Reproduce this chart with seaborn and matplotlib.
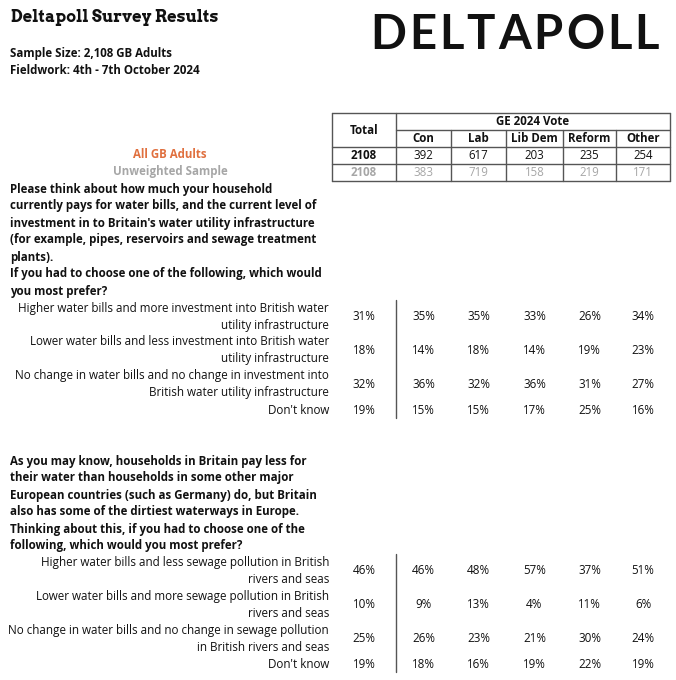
import numpy as np
import pandas as pd
import seaborn as sns
from matplotlib import pyplot as plt
from matplotlib import font_manager
from matplotlib.font_manager import FontProperties

# survey data

parties = ['Con', 'Lab', 'Lib Dem', 'Reform', 'Other']
weighted_n = [2108, 392, 617, 203, 235, 254]
unweighted_n = [2108, 383, 719, 158, 219, 171]

q1_text = ["Please think about how much your household",
           "currently pays for water bills, and the current level of",
           "investment in to Britain's water utility infrastructure",
           "(for example, pipes, reservoirs and sewage treatment",
           "plants).",
           "If you had to choose one of the following, which would",
           "you most prefer?"]
q1_options = [["Higher water bills and more investment into British water", "utility infrastructure"],
              ["Lower water bills and less investment into British water", "utility infrastructure"],
              ["No change in water bills and no change in investment into", "British water utility infrastructure"],
              ["Don't know"]]
q1_values = [[31, 35, 35, 33, 26, 34],
             [18, 14, 18, 14, 19, 23],
             [32, 36, 32, 36, 31, 27],
             [19, 15, 15, 17, 25, 16]]

q2_text = ["As you may know, households in Britain pay less for",
           "their water than households in some other major",
           "European countries (such as Germany) do, but Britain",
           "also has some of the dirtiest waterways in Europe.",
           "Thinking about this, if you had to choose one of the",
           "following, which would you most prefer?"]
q2_options = [["Higher water bills and less sewage pollution in British", "rivers and seas"],
              ["Lower water bills and more sewage pollution in British", "rivers and seas"],
              ["No change in water bills and no change in sewage pollution", "in British rivers and seas"],
              ["Don't know"]]
q2_values = [[46, 46, 48, 57, 37, 51],
             [10, 9, 13, 4, 11, 6],
             [25, 26, 23, 21, 30, 24],
             [19, 18, 16, 19, 22, 19]]

sns.set_theme(style='white')
plt.rcParams['font.family'] = ['Open Sans', 'DejaVu Sans']


def font_file(suffix, fallback_family, weight='normal'):
    for f in font_manager.fontManager.ttflist:
        if f.fname.endswith(suffix):
            return FontProperties(fname=f.fname)
    return FontProperties(family=fallback_family, weight=weight)


row_font = font_file('OpenSans-Regular.ttf', 'Open Sans')
title_font = font_file('Arvo-Bold.ttf', 'DejaVu Serif', 'bold')
logo_font = FontProperties(family=['Lato', 'DejaVu Sans'], weight='bold')

fig = plt.figure(figsize=(6.76, 6.80), dpi=100)
ax = fig.add_axes([0, 0, 1, 1])
ax.set_xlim(0, 676)
ax.set_ylim(680, 0)
ax.axis('off')

dark = '#111111'
grey = '#a6a6a6'
orange = '#e0703f'
line_col = '#555555'
fs = 8.3
fs_row = 8.4

# header
title_font.set_size(11.8)
ax.text(11, 18, 'Deltapoll Survey Results', fontproperties=title_font, va='center', color=dark)
ax.text(10, 54, 'Sample Size: 2,108 GB Adults', fontsize=fs, fontweight='bold', va='center', color=dark)
ax.text(10, 71, 'Fieldwork: 4th - 7th October 2024', fontsize=fs, fontweight='bold', va='center', color=dark)

# logo with letter spacing: measure each letter, then spread them over the logo width
logo_font.set_size(34)
renderer = fig.canvas.get_renderer()
letters = [ax.text(0, 35, ch, fontproperties=logo_font, va='center', color=dark) for ch in 'DELTAPOLL']
widths = [t.get_window_extent(renderer).width for t in letters]
logo_left, logo_right = 370, 659
gap = (logo_right - logo_left - sum(widths)) / (len(letters) - 1)
x = logo_left
for t, w in zip(letters, widths):
    t.set_x(x)
    x += w + gap

# column table
bounds = [332, 396, 451, 506, 563, 616, 670]
centers = [(bounds[i] + bounds[i + 1]) / 2 for i in range(len(bounds) - 1)]
top, mid, sub, r1, bottom = 113, 130, 147, 164, 181
lw = 1.0
ax.plot([bounds[0], bounds[-1]], [top, top], color=line_col, lw=lw)
ax.plot([bounds[1], bounds[-1]], [mid, mid], color=line_col, lw=lw)
for y in (sub, r1, bottom):
    ax.plot([bounds[0], bounds[-1]], [y, y], color=line_col, lw=lw)
for b in (bounds[0], bounds[1], bounds[-1]):
    ax.plot([b, b], [top, bottom], color=line_col, lw=lw)
for b in bounds[2:-1]:
    ax.plot([b, b], [mid, bottom], color=line_col, lw=lw)

ax.text(centers[0], (top + sub) / 2, 'Total', fontsize=fs, fontweight='bold', ha='center', va='center', color=dark)
ax.text((bounds[1] + bounds[-1]) / 2, (top + mid) / 2, 'GE 2024 Vote', fontsize=fs, fontweight='bold',
        ha='center', va='center', color=dark)
for c, p in zip(centers[1:], parties):
    ax.text(c, (mid + sub) / 2, p, fontsize=fs, fontweight='bold', ha='center', va='center', color=dark)
for i, (c, w, u) in enumerate(zip(centers, weighted_n, unweighted_n)):
    wt = 'bold' if i == 0 else 'normal'
    ax.text(c, (sub + r1) / 2, str(w), fontsize=fs, fontweight=wt, ha='center', va='center', color=dark)
    ax.text(c, (r1 + bottom) / 2, str(u), fontsize=fs, fontweight=wt, ha='center', va='center', color=grey)

ax.text(170, 155, 'All GB Adults', fontsize=fs, fontweight='bold', ha='center', va='center', color=orange)
ax.text(170, 172, 'Unweighted Sample', fontsize=fs, fontweight='bold', ha='center', va='center', color=grey)

row_font.set_size(fs_row)


def draw_question(text_lines, y_text, options, values, y_rows):
    for k, line in enumerate(text_lines):
        ax.text(10, y_text + 17 * k, line, fontsize=fs, fontweight='bold', va='center', color=dark)
    table = pd.DataFrame(values, columns=['Total'] + parties)
    for (_, row), opt, yr in zip(table.iterrows(), options, y_rows):
        if len(opt) == 2:
            ax.text(329, yr - 8.5, opt[0], fontproperties=row_font, ha='right', va='center', color=dark)
            ax.text(329, yr + 8.5, opt[1], fontproperties=row_font, ha='right', va='center', color=dark)
        else:
            ax.text(329, yr, opt[0], fontproperties=row_font, ha='right', va='center', color=dark)
        for c, v in zip(centers, row.values):
            ax.text(c, yr, f'{v}%', fontproperties=row_font, ha='center', va='center', color=dark)
    ax.plot([396, 396], [y_rows[0] - 17, y_rows[-1] + 8], color=line_col, lw=lw)


draw_question(q1_text, 189, q1_options, q1_values, [317, 350, 384, 410])
draw_question(q2_text, 461, q2_options, q2_values, [571, 605, 639, 664])

fig.savefig('out.png', dpi=100, facecolor='white')
